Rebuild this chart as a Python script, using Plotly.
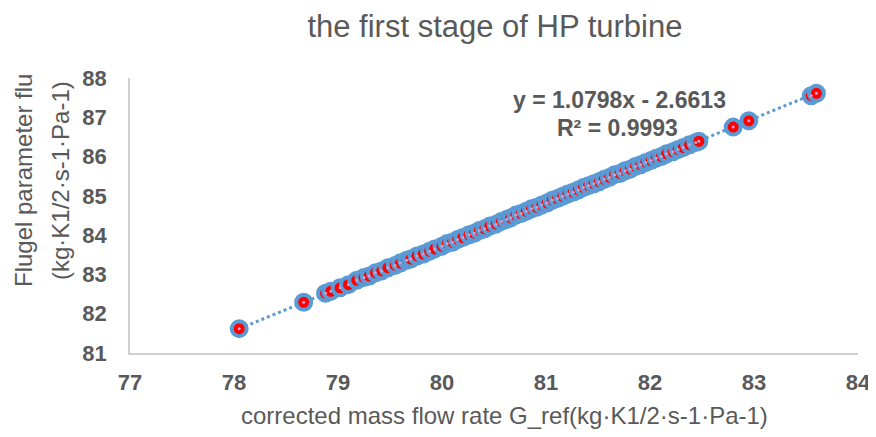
import numpy as np
import plotly.graph_objects as go

title_text = "the first stage of HP turbine"
x_title = "corrected mass flow rate G_ref(kg·K1/2·s-1·Pa-1)"
y_title_1 = "Flugel parameter flu"
y_title_2 = "(kg·K1/2·s-1·Pa-1)"
eq_text = "y = 1.0798x - 2.6613"
r2_text = "R² = 0.9993"

x_ticks = [77, 78, 79, 80, 81, 82, 83, 84]
y_ticks = [81, 82, 83, 84, 85, 86, 87, 88]

g_ref = [78.05, 78.67, 78.88, 78.93, 79.02, 79.10, 79.18, 79.25, 79.30, 79.36,
         79.42, 79.48, 79.55, 79.60, 79.66, 79.70, 79.76, 79.82, 79.88, 79.93,
         80.00, 80.05, 80.10, 80.15, 80.20, 80.26, 80.31, 80.36, 80.41, 80.46,
         80.52, 80.57, 80.62, 80.66, 80.71, 80.76, 80.81, 80.86, 80.91, 80.96,
         81.01, 81.06, 81.11, 81.16, 81.21, 81.26, 81.31, 81.36, 81.41, 81.46,
         81.51, 81.56, 81.61, 81.66, 81.71, 81.76, 81.81, 81.86, 81.91, 81.96,
         82.01, 82.06, 82.11, 82.16, 82.22, 82.27, 82.32, 82.38, 82.44, 82.47,
         82.80, 82.95, 83.55, 83.60]
flu = [81.62, 82.29, 82.52, 82.57, 82.66, 82.74, 82.85, 82.92, 82.96, 83.04,
       83.09, 83.17, 83.23, 83.29, 83.36, 83.39, 83.47, 83.52, 83.59, 83.65,
       83.72, 83.79, 83.82, 83.89, 83.94, 84.01, 84.05, 84.12, 84.16, 84.23,
       84.28, 84.35, 84.40, 84.44, 84.51, 84.55, 84.61, 84.67, 84.71, 84.77,
       84.82, 84.89, 84.93, 84.99, 85.05, 85.09, 85.15, 85.21, 85.26, 85.31,
       85.36, 85.42, 85.47, 85.54, 85.57, 85.64, 85.68, 85.75, 85.79, 85.85,
       85.90, 85.96, 86.00, 86.07, 86.12, 86.18, 86.23, 86.30, 86.36, 86.39,
       86.75, 86.91, 87.55, 87.61]

slope, intercept = np.polyfit(g_ref, flu, 1)
tx = np.array([min(g_ref), max(g_ref)])
ty = slope * tx + intercept

BLUE = "#5B9BD5"
GREY = "#595959"
FONT = "Liberation Sans, Arial, sans-serif"

fig = go.Figure()
fig.add_trace(go.Scatter(x=tx, y=ty, mode="lines",
                         line=dict(color=BLUE, width=3, dash="dot"),
                         hoverinfo="skip", showlegend=False))
fig.add_trace(go.Scatter(x=g_ref, y=flu, mode="markers",
                         marker=dict(symbol="circle", size=15, color="#FF0000",
                                     line=dict(color=BLUE, width=4)),
                         showlegend=False))
fig.add_trace(go.Scatter(x=g_ref, y=flu, mode="markers",
                         marker=dict(symbol="circle", size=3, color="#C9A3D6"),
                         hoverinfo="skip", showlegend=False))

# page is offset by the 8px body margin: figure is 868x429
fig.update_layout(
    width=868, height=429,
    margin=dict(l=122, r=18, t=70, b=84, autoexpand=False),
    paper_bgcolor="white", plot_bgcolor="white",
    font=dict(family=FONT, color=GREY),
    title=dict(text=title_text, x=0.561, xanchor="center", y=0.982, yanchor="top",
               font=dict(size=31, color=GREY, family=FONT)),
    xaxis=dict(range=[77, 84], tickvals=x_ticks, ticktext=[str(v) for v in x_ticks],
               showgrid=False, zeroline=False, showline=True, linecolor="#D0D0D0",
               linewidth=1.5, ticks="", ticklabelstandoff=9,
               tickfont=dict(size=22, color=GREY, family=FONT, weight="bold")),
    yaxis=dict(range=[81, 88], tickvals=y_ticks, ticktext=[str(v) for v in y_ticks],
               showgrid=False, zeroline=False, showline=True, linecolor="#D0D0D0",
               linewidth=1.5, ticks="", ticklabelstandoff=17,
               tickfont=dict(size=22, color=GREY, family=FONT, weight="bold")),
    annotations=[
        dict(text=x_title, xref="paper", yref="paper", x=0.515, y=-0.2255,
             xanchor="center", yanchor="middle", showarrow=False,
             font=dict(size=24, color=GREY, family=FONT)),
        dict(text=y_title_1, xref="paper", yref="paper", x=-0.147, y=0.629,
             xanchor="center", yanchor="middle", textangle=-90, showarrow=False,
             font=dict(size=24, color=GREY, family=FONT)),
        dict(text=y_title_2, xref="paper", yref="paper", x=-0.0962, y=0.629,
             xanchor="center", yanchor="middle", textangle=-90, showarrow=False,
             font=dict(size=24, color=GREY, family=FONT)),
        dict(text="<b>" + eq_text + "</b>", xref="paper", yref="paper",
             x=0.672, y=0.92, xanchor="center", yanchor="middle", showarrow=False,
             font=dict(size=23, color=GREY, family=FONT)),
        dict(text="<b>" + r2_text + "</b>", xref="paper", yref="paper",
             x=0.669, y=0.818, xanchor="center", yanchor="middle", showarrow=False,
             font=dict(size=23, color=GREY, family=FONT)),
    ],
)

fig.write_html("out.html")
